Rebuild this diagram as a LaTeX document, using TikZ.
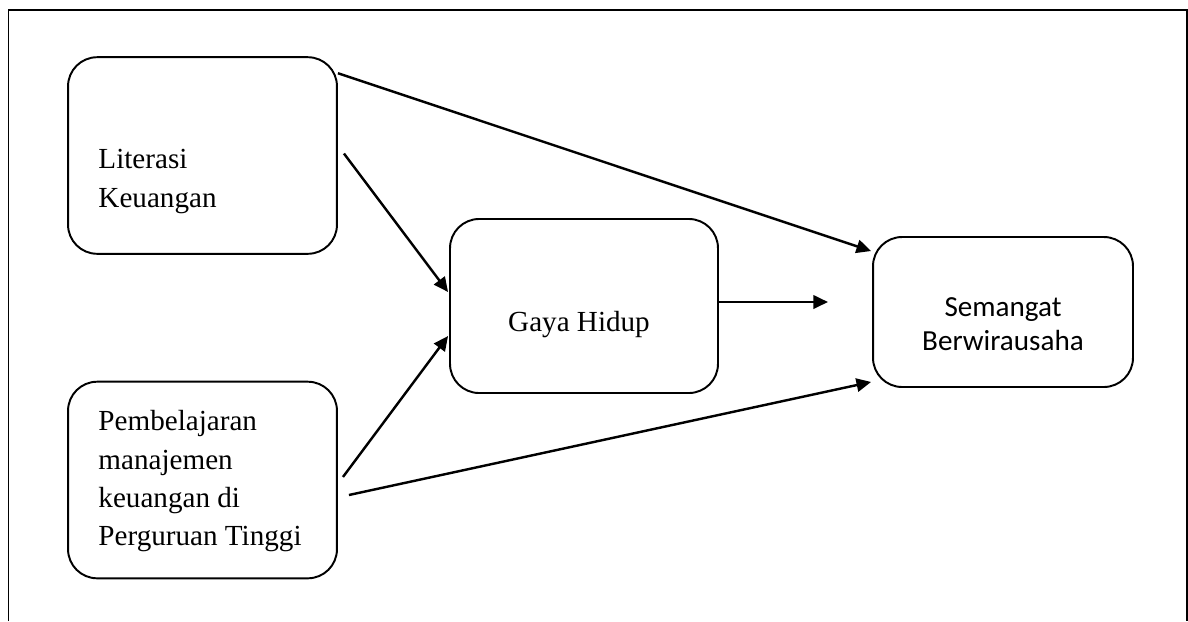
\documentclass[tikz,border=0pt]{standalone}
\usepackage{fontspec}
\setmainfont{Liberation Serif}
\newfontfamily\calibrifont{Carlito}
\usetikzlibrary{arrows.meta, positioning, calc}

\begin{document}
\begin{tikzpicture}[x=0.412pt, y=-0.412pt,
    block/.style={draw, line width=0.8pt, rounded corners=12pt, minimum width=110.8pt, minimum height=81pt},
    txt/.style={inner sep=0pt, font=\fontsize{12}{15.8}\selectfont},
    arrow/.style={-{Triangle[length=6pt, width=5.5pt]}, line width=1pt}
]
    \useasboundingbox (0,0) rectangle (1188,621);
    % Frame
    \draw[line width=0.8pt] (8.5,621) -- (8.5,10) -- (1187,10) -- (1187,621);

    % Independent variables
    \node[block] (lit) at (202.5,155.5) {};
    \node[txt, anchor=north west, align=left] (littxt) at (98,149) {Literasi\\Keuangan};

    \node[block] (pem) at (202.5,480) {};
    \node[txt, anchor=north west, align=left] (pemtxt) at (98,410) {Pembelajaran\\manajemen\\keuangan di\\Perguruan Tinggi};

    % Mediator
    \node[block, minimum width=110.4pt, minimum height=71.7pt] (gaya) at (584,306) {};
    \node[txt, anchor=base] (gayatxt) at (579,331) {Gaya Hidup};

    % Dependent variable
    \node[block, minimum width=107.1pt, minimum height=61.8pt] (sem) at (1003,312) {};
    \node[txt, anchor=north, align=center, font=\calibrifont\fontsize{12}{14.2}\selectfont] (semtxt) at (1003,297) {Semangat\\Berwirausaha};

    \coordinate (gayaout) at (828,302);

    % Connections
    \draw[arrow] ($(lit.north east)+(0,17)$) -- ($(sem.north west)+(-1,15)$);
    \draw[arrow] ($(lit.east)+(6,-2)$) -- ($(gaya.west)+(-1,-14)$);
    \draw[arrow] ($(pem.east)+(5,-3)$) -- ($(gaya.west)+(-1,30)$);
    \draw[arrow] ($(pem.east)+(11,15)$) -- ($(sem.south west)+(-1,-6)$);
    \draw[arrow] ($(gaya.east)+(0,-4)$) -- (gayaout);
\end{tikzpicture}
\end{document}
